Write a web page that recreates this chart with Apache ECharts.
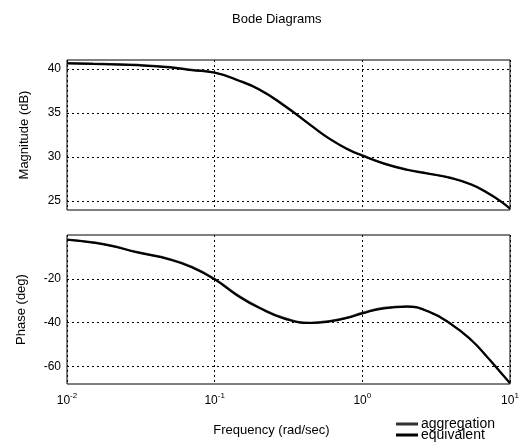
<!DOCTYPE html>
<html>
<head>
<meta charset="utf-8">
<script src="https://cdn.jsdelivr.net/npm/echarts@6/dist/echarts.min.js"></script>
<style>
  html, body { margin: 0; padding: 0; background: #fff; }
  #chart { width: 522px; height: 446px; }
</style>
</head>
<body>
<div id="chart"></div>
<script>
// frequency points (rad/sec)
const freq = [0.01, 0.015, 0.02, 0.03, 0.05, 0.07, 0.1, 0.14, 0.2, 0.3, 0.45, 0.6, 0.8, 1, 1.4, 2, 2.8, 4, 5.5, 7, 8.5, 10];

// magnitude (dB)
const magAggregation = [40.65, 40.6, 40.55, 40.45, 40.2, 39.9, 39.6, 38.8, 37.7, 35.8, 33.6, 32.1, 30.9, 30.2, 29.3, 28.6, 28.15, 27.65, 26.9, 26.0, 25.1, 24.2];
const magEquivalent  = [40.6, 40.55, 40.5, 40.4, 40.15, 39.85, 39.55, 38.75, 37.65, 35.75, 33.55, 32.05, 30.85, 30.15, 29.25, 28.55, 28.1, 27.6, 26.85, 25.95, 25.05, 24.15];

// phase (deg)
const phaseAggregation = [-2, -3.3, -4.8, -7.8, -11, -14.5, -20, -27, -33, -38, -40, -39.2, -37.5, -35.5, -33.2, -32.5, -34.8, -40.6, -48, -55.5, -62, -67.5];
const phaseEquivalent  = [-2.2, -3.5, -5, -8, -11.3, -14.8, -20.3, -27.3, -33.3, -38.3, -40.2, -39.5, -37.8, -35.8, -33.5, -32.8, -35, -40.8, -48.2, -55.7, -62.2, -67.7];

const magTicks = [25, 30, 35, 40];
const phaseTicks = [-60, -40, -20];

const pairs = (ys) => freq.map((f, i) => [f, ys[i]]);

const chart = echarts.init(document.getElementById('chart'));

const dotted = { show: true, lineStyle: { color: '#000', type: [2, 3], width: 1 } };
const fontFam = 'Liberation Sans, Arial, sans-serif';

const xBase = {
  type: 'log',
  logBase: 10,
  min: 0.01,
  max: 10,
  axisLine: { show: false },
  axisTick: { show: false },
  splitLine: dotted
};

const expLabel = (v) => {
  const e = Math.round(Math.log10(v));
  return '{b|10}{s|' + e + '}';
};

const legendBase = {
  left: 396,
  padding: 0,
  itemWidth: 22,
  itemHeight: 3,
  icon: 'rect',
  textStyle: { fontFamily: fontFam, fontSize: 14, color: '#000', padding: [0, 0, 0, -2] }
};

const option = {
  animation: false,
  backgroundColor: '#fff',
  title: {
    text: 'Bode Diagrams',
    left: 227,
    top: 8,
    textStyle: { fontFamily: fontFam, fontSize: 13, fontWeight: 'normal', color: '#000' }
  },
  legend: [
    Object.assign({}, legendBase, { top: 417, data: ['aggregation'] }),
    Object.assign({}, legendBase, { top: 428, data: ['equivalent'] })
  ],
  grid: [
    { left: 67, right: 12, top: 60, height: 150, show: true, borderColor: '#000', borderWidth: 1 },
    { left: 67, right: 12, top: 235, height: 149, show: true, borderColor: '#000', borderWidth: 1 }
  ],
  xAxis: [
    Object.assign({}, xBase, { gridIndex: 0, axisLabel: { show: false } }),
    Object.assign({}, xBase, {
      gridIndex: 1,
      name: 'Frequency (rad/sec)',
      nameLocation: 'middle',
      nameGap: 40,
      nameTextStyle: { fontFamily: fontFam, fontSize: 13, color: '#000', padding: [0, 34, 0, 0] },
      axisLabel: {
        margin: 8,
        formatter: expLabel,
        rich: {
          b: { fontFamily: fontFam, fontSize: 12, color: '#000' },
          s: { fontFamily: fontFam, fontSize: 8, color: '#000', padding: [0, 0, 9, 0] }
        }
      }
    })
  ],
  yAxis: [
    {
      gridIndex: 0,
      type: 'value',
      min: 24,
      max: 41,
      name: 'Magnitude (dB)',
      nameLocation: 'middle',
      nameGap: 36,
      nameTextStyle: { fontFamily: fontFam, fontSize: 13, color: '#000' },
      axisLine: { show: false },
      axisTick: { show: false, customValues: magTicks },
      axisLabel: { customValues: magTicks, fontFamily: fontFam, fontSize: 12, color: '#000', margin: 6 },
      splitLine: dotted
    },
    {
      gridIndex: 1,
      type: 'value',
      min: -68,
      max: 0,
      name: 'Phase (deg)',
      nameLocation: 'middle',
      nameGap: 39,
      nameTextStyle: { fontFamily: fontFam, fontSize: 13, color: '#000' },
      axisLine: { show: false },
      axisTick: { show: false, customValues: phaseTicks },
      axisLabel: { customValues: phaseTicks, fontFamily: fontFam, fontSize: 12, color: '#000', margin: 6 },
      splitLine: dotted
    }
  ],
  series: [
    {
      name: 'aggregation', type: 'line', xAxisIndex: 0, yAxisIndex: 0,
      data: pairs(magAggregation), smooth: true, showSymbol: false,
      lineStyle: { color: '#333', width: 2 }, itemStyle: { color: '#333' }
    },
    {
      name: 'equivalent', type: 'line', xAxisIndex: 0, yAxisIndex: 0,
      data: pairs(magEquivalent), smooth: true, showSymbol: false,
      lineStyle: { color: '#000', width: 2 }, itemStyle: { color: '#000' }
    },
    {
      name: 'aggregation', type: 'line', xAxisIndex: 1, yAxisIndex: 1,
      data: pairs(phaseAggregation), smooth: true, showSymbol: false,
      lineStyle: { color: '#333', width: 2 }, itemStyle: { color: '#333' }
    },
    {
      name: 'equivalent', type: 'line', xAxisIndex: 1, yAxisIndex: 1,
      data: pairs(phaseEquivalent), smooth: true, showSymbol: false,
      lineStyle: { color: '#000', width: 2 }, itemStyle: { color: '#000' }
    }
  ]
};

chart.setOption(option);
</script>
</body>
</html>
